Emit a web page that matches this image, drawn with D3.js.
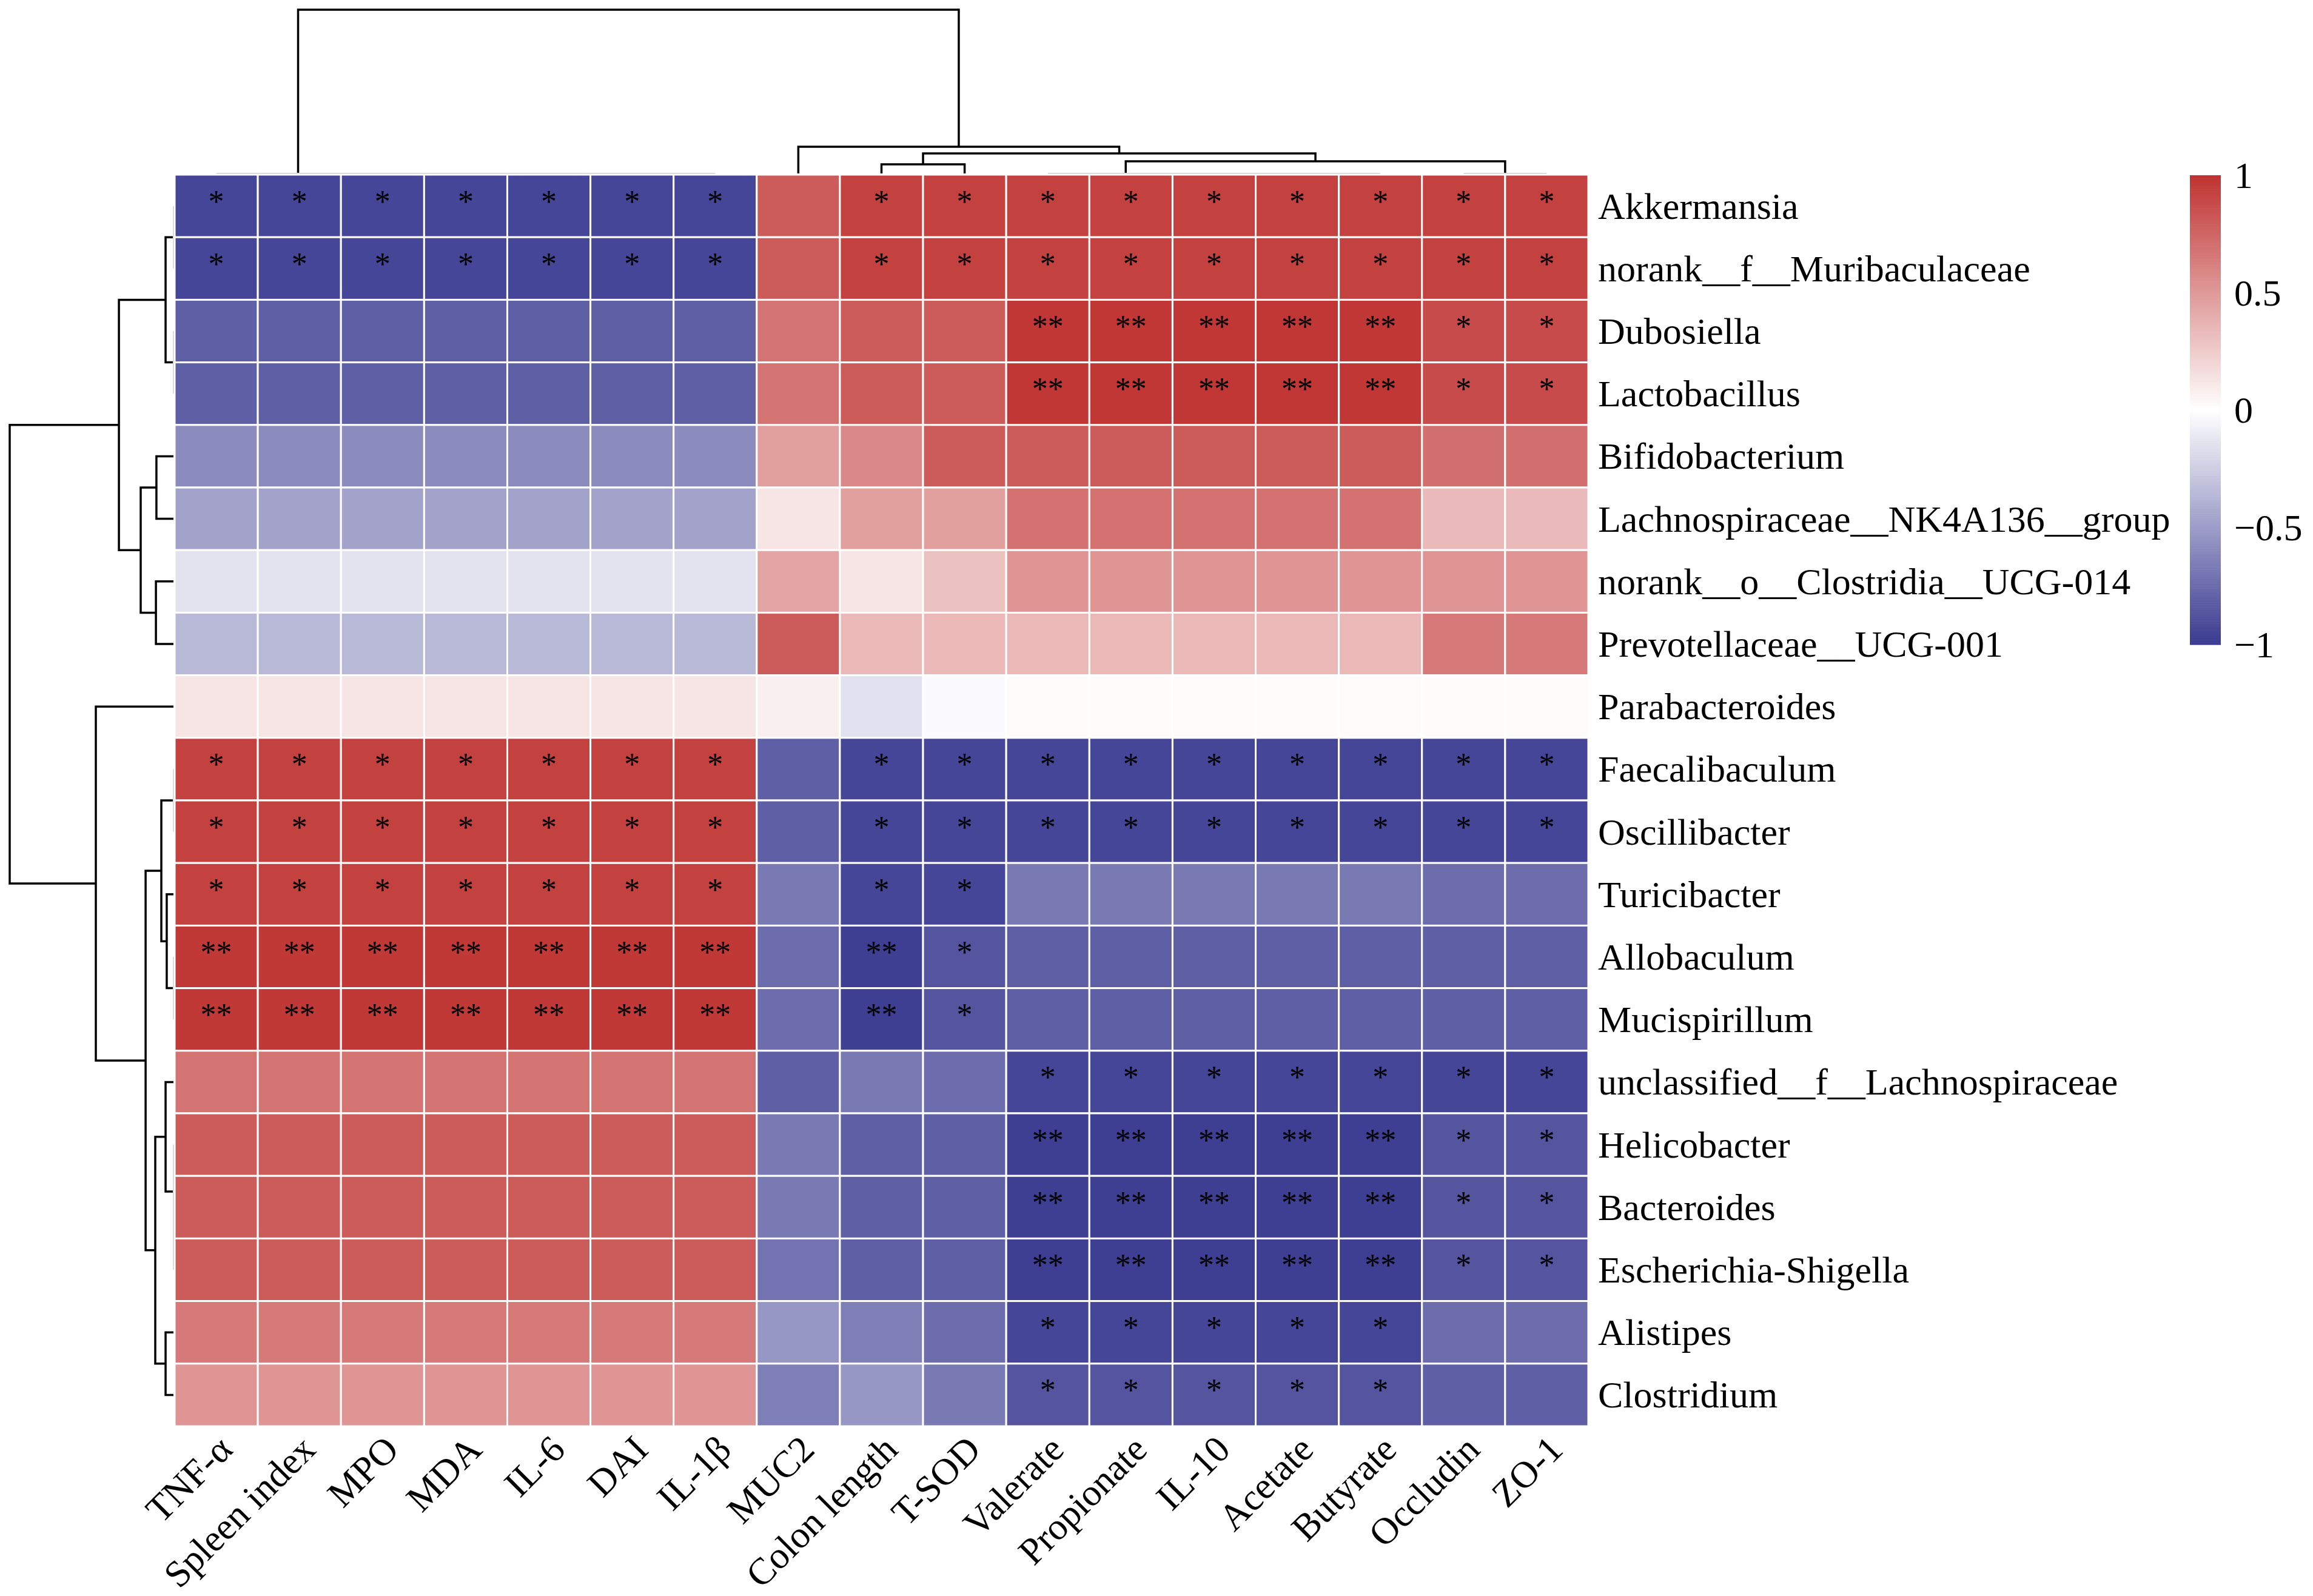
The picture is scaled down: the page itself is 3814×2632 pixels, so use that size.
<!DOCTYPE html>
<html><head><meta charset="utf-8">
<script src="https://cdn.jsdelivr.net/npm/d3@7/dist/d3.min.js"></script>
<style>html,body{margin:0;padding:0;background:#fff}svg{display:block}</style>
</head><body>
<svg id="chart" width="3814" height="2632"></svg>
<script>
// ---------------- data ----------------
const rowNames = ["Akkermansia","norank__f__Muribaculaceae","Dubosiella","Lactobacillus","Bifidobacterium",
  "Lachnospiraceae__NK4A136__group","norank__o__Clostridia__UCG-014","Prevotellaceae__UCG-001","Parabacteroides",
  "Faecalibaculum","Oscillibacter","Turicibacter","Allobaculum","Mucispirillum","unclassified__f__Lachnospiraceae",
  "Helicobacter","Bacteroides","Escherichia-Shigella","Alistipes","Clostridium"];
const colNames = ["TNF-α","Spleen index","MPO","MDA","IL-6","DAI","IL-1β","MUC2","Colon length","T-SOD",
  "Valerate","Propionate","IL-10","Acetate","Butyrate","Occludin","ZO-1"];
const corrValues = [
  [-0.94,-0.94,-0.94,-0.94,-0.94,-0.94,-0.94, 0.80, 0.93, 0.93, 0.93, 0.93, 0.93, 0.93, 0.93, 0.93, 0.93],
  [-0.94,-0.94,-0.94,-0.94,-0.94,-0.94,-0.94, 0.80, 0.93, 0.93, 0.93, 0.93, 0.93, 0.93, 0.93, 0.93, 0.93],
  [-0.81,-0.81,-0.81,-0.81,-0.81,-0.81,-0.81, 0.68, 0.80, 0.80, 0.98, 0.98, 0.98, 0.98, 0.98, 0.88, 0.88],
  [-0.81,-0.81,-0.81,-0.81,-0.81,-0.81,-0.81, 0.68, 0.80, 0.80, 0.98, 0.98, 0.98, 0.98, 0.98, 0.88, 0.88],
  [-0.59,-0.59,-0.59,-0.59,-0.59,-0.59,-0.59, 0.47, 0.58, 0.80, 0.80, 0.80, 0.80, 0.80, 0.80, 0.70, 0.70],
  [-0.47,-0.47,-0.47,-0.47,-0.47,-0.47,-0.47, 0.13, 0.47, 0.47, 0.69, 0.69, 0.69, 0.69, 0.69, 0.34, 0.34],
  [-0.14,-0.14,-0.14,-0.14,-0.14,-0.14,-0.14, 0.44, 0.13, 0.30, 0.52, 0.52, 0.52, 0.52, 0.52, 0.52, 0.52],
  [-0.36,-0.36,-0.36,-0.36,-0.36,-0.36,-0.36, 0.80, 0.35, 0.35, 0.35, 0.35, 0.35, 0.35, 0.35, 0.65, 0.65],
  [ 0.13, 0.13, 0.13, 0.13, 0.13, 0.13, 0.13, 0.08,-0.15,-0.02, 0.02, 0.02, 0.02, 0.02, 0.02, 0.02, 0.02],
  [ 0.93, 0.93, 0.93, 0.93, 0.93, 0.93, 0.93,-0.81,-0.94,-0.94,-0.94,-0.94,-0.94,-0.94,-0.94,-0.94,-0.94],
  [ 0.93, 0.93, 0.93, 0.93, 0.93, 0.93, 0.93,-0.81,-0.94,-0.94,-0.94,-0.94,-0.94,-0.94,-0.94,-0.94,-0.94],
  [ 0.93, 0.93, 0.93, 0.93, 0.93, 0.93, 0.93,-0.68,-0.94,-0.94,-0.68,-0.68,-0.68,-0.68,-0.68,-0.74,-0.74],
  [ 0.97, 0.97, 0.97, 0.97, 0.97, 0.97, 0.97,-0.74,-0.98,-0.87,-0.81,-0.81,-0.81,-0.81,-0.81,-0.81,-0.81],
  [ 0.97, 0.97, 0.97, 0.97, 0.97, 0.97, 0.97,-0.74,-0.98,-0.87,-0.81,-0.81,-0.81,-0.81,-0.81,-0.81,-0.81],
  [ 0.68, 0.68, 0.68, 0.68, 0.68, 0.68, 0.68,-0.81,-0.68,-0.74,-0.94,-0.94,-0.94,-0.94,-0.94,-0.94,-0.94],
  [ 0.80, 0.80, 0.80, 0.80, 0.80, 0.80, 0.80,-0.68,-0.81,-0.81,-0.98,-0.98,-0.98,-0.98,-0.98,-0.87,-0.87],
  [ 0.80, 0.80, 0.80, 0.80, 0.80, 0.80, 0.80,-0.68,-0.81,-0.81,-0.98,-0.98,-0.98,-0.98,-0.98,-0.87,-0.87],
  [ 0.80, 0.80, 0.80, 0.80, 0.80, 0.80, 0.80,-0.71,-0.81,-0.81,-0.98,-0.98,-0.98,-0.98,-0.98,-0.87,-0.87],
  [ 0.65, 0.65, 0.65, 0.65, 0.65, 0.65, 0.65,-0.53,-0.65,-0.74,-0.94,-0.94,-0.94,-0.94,-0.94,-0.74,-0.74],
  [ 0.52, 0.52, 0.52, 0.52, 0.52, 0.52, 0.52,-0.65,-0.53,-0.68,-0.87,-0.87,-0.87,-0.87,-0.87,-0.81,-0.81]
];
const sigMarks = [
  ["*","*","*","*","*","*","*","","*","*","*","*","*","*","*","*","*"],
  ["*","*","*","*","*","*","*","","*","*","*","*","*","*","*","*","*"],
  ["","","","","","","","","","","**","**","**","**","**","*","*"],
  ["","","","","","","","","","","**","**","**","**","**","*","*"],
  ["","","","","","","","","","","","","","","","",""],
  ["","","","","","","","","","","","","","","","",""],
  ["","","","","","","","","","","","","","","","",""],
  ["","","","","","","","","","","","","","","","",""],
  ["","","","","","","","","","","","","","","","",""],
  ["*","*","*","*","*","*","*","","*","*","*","*","*","*","*","*","*"],
  ["*","*","*","*","*","*","*","","*","*","*","*","*","*","*","*","*"],
  ["*","*","*","*","*","*","*","","*","*","","","","","","",""],
  ["**","**","**","**","**","**","**","","**","*","","","","","","",""],
  ["**","**","**","**","**","**","**","","**","*","","","","","","",""],
  ["","","","","","","","","","","*","*","*","*","*","*","*"],
  ["","","","","","","","","","","**","**","**","**","**","*","*"],
  ["","","","","","","","","","","**","**","**","**","**","*","*"],
  ["","","","","","","","","","","**","**","**","**","**","*","*"],
  ["","","","","","","","","","","*","*","*","*","*","",""],
  ["","","","","","","","","","","*","*","*","*","*","",""]
];
// dendrograms: internal nodes {h, c:[left,right]}, leaves = index
const rowTree = {h:1.0, c:[
  {h:0.333, c:[
    {h:0.048, c:[{h:0, c:[0,1]}, {h:0, c:[2,3]}]},
    {h:0.200, c:[{h:0.104, c:[4,5]}, {h:0.107, c:[6,7]}]}
  ]},
  {h:0.474, c:[8,
    {h:0.170, c:[
      {h:0.074, c:[{h:0, c:[9,10]}, {h:0.041, c:[11, {h:0, c:[12,13]}]}]},
      {h:0.111, c:[
        {h:0.048, c:[14, {h:0, c:[15, {h:0, c:[16,17]}]}]},
        {h:0.048, c:[18,19]}
      ]}
    ]}
  ]}
]};
const colTree = {h:1.0, c:[
  {h:0, c:[0, {h:0, c:[1, {h:0, c:[2, {h:0, c:[3, {h:0, c:[4, {h:0, c:[5,6]}]}]}]}]}]},
  {h:0.163, c:[7,
    {h:0.122, c:[
      {h:0.056, c:[8,9]},
      {h:0.074, c:[
        {h:0, c:[10, {h:0, c:[11, {h:0, c:[12, {h:0, c:[13,14]}]}]}]},
        {h:0, c:[15,16]}
      ]}
    ]}
  ]}
]};
const legendTicks = [1, 0.5, 0, -0.5, -1];
const legendLabels = ["1", "0.5", "0", "\u22120.5", "\u22121"];

// ---------------- drawing ----------------
const svg = d3.select("#chart");
const FONT = "'Liberation Serif','Times New Roman',Times,serif";
const heat = {x0: 288, x1: 2619, y0: 288, y1: 2352};
const x = d3.scaleBand().domain(d3.range(colNames.length)).range([heat.x0, heat.x1]);
const y = d3.scaleBand().domain(d3.range(rowNames.length)).range([heat.y0, heat.y1]);
const color = d3.scaleLinear().domain([-1, 0, 1])
  .range(["#3A3A91", "#FFFFFF", "#BF3331"]).interpolate(d3.interpolateRgb);

svg.append("rect").attr("width", 3814).attr("height", 2632).attr("fill", "#fff");

// cells
const cells = [];
corrValues.forEach((row, i) => row.forEach((v, j) => cells.push({i, j, v, s: sigMarks[i][j]})));
svg.append("g").selectAll("rect").data(cells).join("rect")
  .attr("x", d => x(d.j)).attr("y", d => y(d.i))
  .attr("width", x.bandwidth()).attr("height", y.bandwidth())
  .attr("fill", d => color(d.v))
  .attr("stroke", "#fff").attr("stroke-width", 3);

svg.append("g").selectAll("text").data(cells.filter(d => d.s)).join("text")
  .attr("x", d => x(d.j) + x.bandwidth() / 2)
  .attr("y", d => y(d.i) + y.bandwidth() / 2 + 10)
  .attr("text-anchor", "middle")
  .attr("font-family", FONT).attr("font-size", 52).attr("fill", "#000")
  .text(d => d.s);

// dendrograms
function layout(node, leafPos) {
  if (typeof node === "number") return {pos: leafPos(node), h: 0, node};
  const kids = node.c.map(k => layout(k, leafPos));
  return {pos: d3.mean(kids, k => k.pos), h: node.h, kids};
}
function collect(n, out) {
  if (!n.kids) return out;
  out.push(n);
  n.kids.forEach(k => collect(k, out));
  return out;
}
const rowH = d3.scaleLinear().domain([0, 1]).range([286, 16]);
const colH = d3.scaleLinear().domain([0, 1]).range([286, 16]);

const rowLayout = layout(rowTree, i => y(i) + y.bandwidth() / 2);
const rowNodes = collect(rowLayout, []);
svg.append("g").selectAll("path").data(rowNodes).join("path")
  .attr("d", n => {
    const [a, b] = n.kids;
    return `M${rowH(a.h)},${a.pos}L${rowH(n.h)},${a.pos}L${rowH(n.h)},${b.pos}L${rowH(b.h)},${b.pos}`;
  })
  .attr("fill", "none")
  .attr("stroke", n => n.h === 0 ? "#dcdcdc" : "#000")
  .attr("stroke-width", n => n.h === 0 ? 2 : 3.5);

const colLayout = layout(colTree, j => x(j) + x.bandwidth() / 2);
const colNodes = collect(colLayout, []);
svg.append("g").selectAll("path").data(colNodes).join("path")
  .attr("d", n => {
    const [a, b] = n.kids;
    return `M${a.pos},${colH(a.h)}L${a.pos},${colH(n.h)}L${b.pos},${colH(n.h)}L${b.pos},${colH(b.h)}`;
  })
  .attr("fill", "none")
  .attr("stroke", n => n.h === 0 ? "#dcdcdc" : "#000")
  .attr("stroke-width", n => n.h === 0 ? 2 : 3.5);

// row labels
svg.append("g").selectAll("text").data(rowNames).join("text")
  .attr("x", heat.x1 + 16)
  .attr("y", (d, i) => y(i) + y.bandwidth() / 2)
  .attr("dy", "0.34em")
  .attr("font-family", FONT).attr("font-size", 62).attr("fill", "#000")
  .text(d => d);

// column labels
svg.append("g").selectAll("text").data(colNames).join("text")
  .attr("transform", (d, j) => `translate(${x(j) + x.bandwidth() / 2},${heat.y1 + 12}) rotate(-45)`)
  .attr("dy", "0.68em")
  .attr("text-anchor", "end")
  .attr("font-family", FONT).attr("font-size", 62).attr("fill", "#000")
  .text(d => d);

// legend
const legY = d3.scaleLinear().domain([-1, 1]).range([1063, 289]);
const steps = d3.range(-1, 1, 0.01);
svg.append("g").selectAll("rect").data(steps).join("rect")
  .attr("x", 3611).attr("width", 51)
  .attr("y", v => legY(v + 0.01))
  .attr("height", v => legY(v) - legY(v + 0.01) + 0.6)
  .attr("fill", v => color(v + 0.005));
svg.append("g").selectAll("text").data(legendTicks).join("text")
  .attr("x", 3684).attr("y", v => legY(v)).attr("dy", "0.34em")
  .attr("font-family", FONT).attr("font-size", 62).attr("fill", "#000")
  .text((v, i) => legendLabels[i]);
</script>
</body></html>
